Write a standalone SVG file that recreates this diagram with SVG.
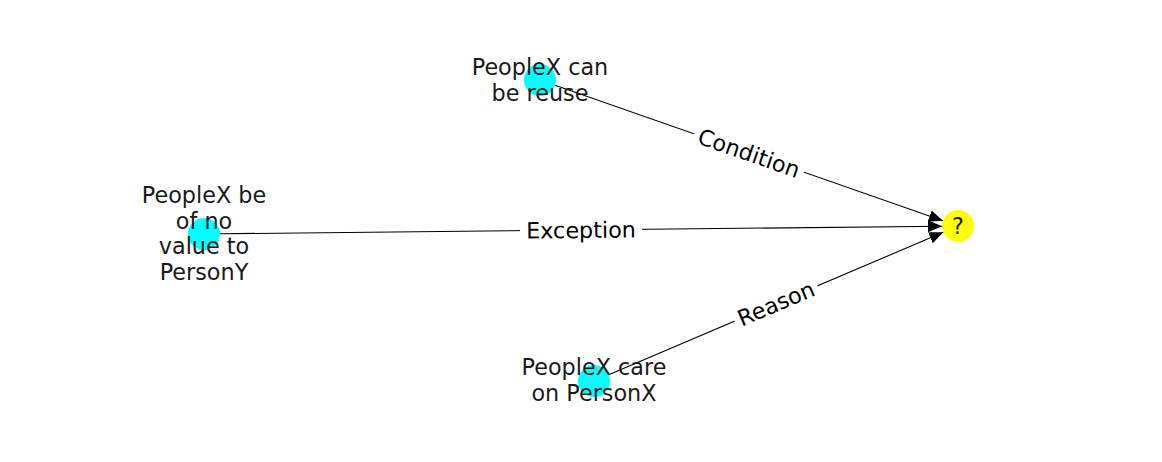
<svg xmlns="http://www.w3.org/2000/svg" width="1162" height="462" viewBox="0 0 1162 462">
<style>
  .node-c { fill: #00ffff; }
  .node-y { fill: #ffff00; }
  .lbl { font-family: "DejaVu Sans", "Liberation Sans", sans-serif; font-size: 22.3px; fill: #1a1a1a; text-anchor: middle; }
  .edge { stroke: #000; stroke-width: 1.1; fill: none; marker-end: url(#arr); }
  .ebox { fill: #fff; }
  .elbl { font-family: "DejaVu Sans", "Liberation Sans", sans-serif; font-size: 22.3px; fill: #000; text-anchor: middle; dominant-baseline: central; }
</style>
<defs>
  <marker id="arr" markerUnits="userSpaceOnUse" markerWidth="16" markerHeight="14" refX="14" refY="7" orient="auto" viewBox="0 0 16 14">
    <path d="M0,1 L14,7 L0,13 Z" fill="#000"/>
  </marker>
</defs>
<rect width="1162" height="462" fill="#fff"/>

<g id="node-reuse">
  <circle class="node-c" cx="540" cy="80" r="16"/>
</g>
<g id="node-novalue">
  <circle class="node-c" cx="204" cy="234" r="16"/>
</g>
<g id="node-care">
  <circle class="node-c" cx="594" cy="381" r="16"/>
</g>
<g id="node-q">
  <circle class="node-y" cx="958" cy="226" r="16"/>
</g>

<g id="connectors">
  <line class="edge" x1="555.1" y1="85.3" x2="942.9" y2="220.7"/>
  <line class="edge" x1="220" y1="233.8" x2="942" y2="226.2"/>
  <line class="edge" x1="608.7" y1="374.7" x2="943.3" y2="232.3"/>
</g>

<g id="node-labels">
  <text class="lbl" x="540" y="75">PeopleX can</text>
  <text class="lbl" x="540" y="101">be reuse</text>
  <text class="lbl" x="204" y="203">PeopleX be</text>
  <text class="lbl" x="204" y="228.5">of no</text>
  <text class="lbl" x="204" y="254">value to</text>
  <text class="lbl" x="204" y="279.5">PersonY</text>
  <text class="lbl" x="594" y="375">PeopleX care</text>
  <text class="lbl" x="594" y="400.5">on PersonX</text>
  <text class="lbl" x="958" y="233.5">?</text>
</g>

<g id="edge-labels">
  <g transform="translate(749,153) rotate(19.25)">
    <rect class="ebox" x="-58" y="-15" width="116" height="30" rx="5"/>
    <text class="elbl" x="0" y="0">Condition</text>
  </g>
  <g transform="translate(581,230) rotate(-0.6)">
    <rect class="ebox" x="-61" y="-15" width="122" height="30" rx="5"/>
    <text class="elbl" x="0" y="0">Exception</text>
  </g>
  <g transform="translate(776,303.5) rotate(-23.06)">
    <rect class="ebox" x="-45" y="-15" width="90" height="30" rx="5"/>
    <text class="elbl" x="0" y="0">Reason</text>
  </g>
</g>
</svg>
